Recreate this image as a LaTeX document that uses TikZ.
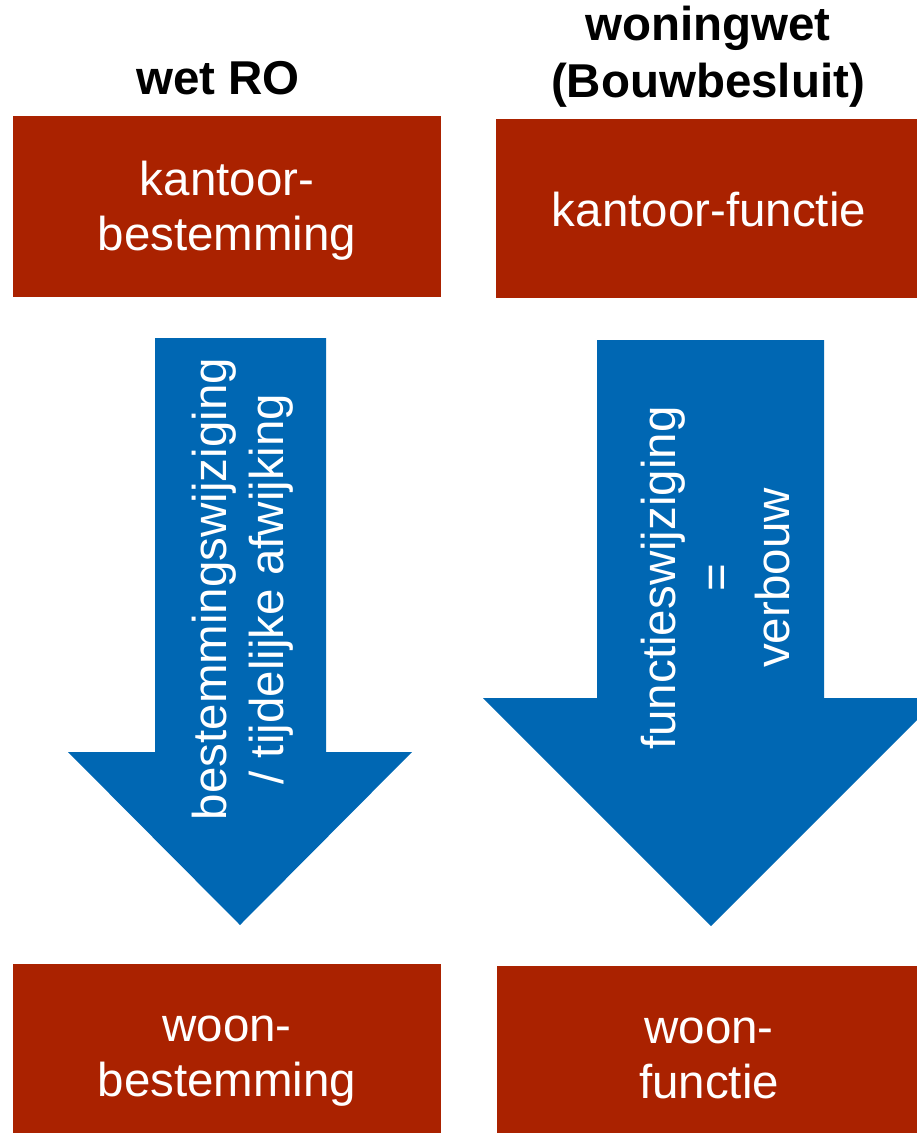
\documentclass[tikz,border=0pt]{standalone}
\usepackage{fontspec}
\setmainfont{Liberation Sans}
\definecolor{boxred}{RGB}{170,34,0}
\definecolor{arrblue}{RGB}{0,103,179}
\begin{document}
\begin{tikzpicture}[x=1pt,y=-1pt,
  redbox/.style={fill=boxred,draw=none,text=white,align=center,inner sep=0pt,
    font=\fontsize{47.5}{55}\selectfont},
  title/.style={align=center,inner sep=0pt,font=\bfseries\fontsize{47.5}{57}\selectfont},
  arrtext/.style={text=white,align=center,rotate=90,inner sep=0pt,
    font=\fontsize{47.5}{57}\selectfont},
  bluearrow/.style={fill=arrblue,draw=none}]
\useasboundingbox (0,0) rectangle (917,1133);
\clip (0,0) rectangle (917,1133);
% titles
\node[title] (t1) at (218,78) {wet RO};
\node[title] (t2) at (708,57) {woningwet\\(Bouwbesluit)};
% top boxes
\path[fill=boxred] (13,116) rectangle (441,297);
\node[redbox] (b1) at (227,211) {kantoor-\\bestemming};
\path[fill=boxred] (496,119) rectangle (917,298);
\node[redbox] (b2) at (709,210) {kantoor-functie};
% arrows
\path[bluearrow] (155,338) -- (326,338) -- (326,752) -- (412,752) -- (240,925)
  -- (68,752) -- (155,752) -- cycle;
\path[bluearrow] (597,340) -- (824,340) -- (824,698) -- (939,698) -- (711,926)
  -- (483,698) -- (597,698) -- cycle;
\node[arrtext] (a1) at (243,589) {bestemmingswijziging\\/ tijdelijke afwijking};
\node[arrtext] (a2) at (716,578) {functieswijziging\\=\\verbouw};
% bottom boxes
\path[fill=boxred] (13,964) rectangle (441,1133);
\node[redbox] (b3) at (227,1061) {woon-\\bestemming};
\path[fill=boxred] (497,966) rectangle (917,1133);
\node[redbox] (b4) at (709,1058) {woon-\\functie};
\end{tikzpicture}
\end{document}
